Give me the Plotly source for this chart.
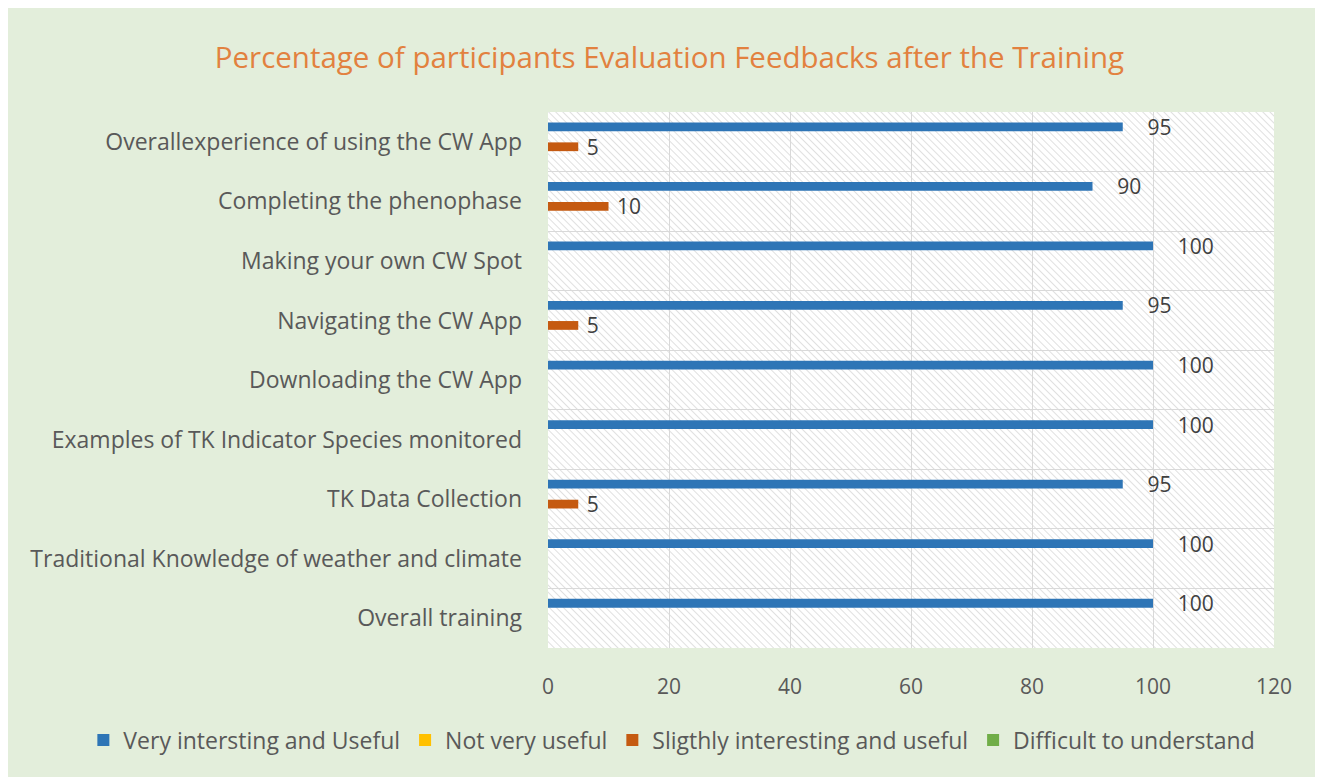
import base64
import plotly.graph_objects as go

categories = [
    "Overallexperience of using the CW App",
    "Completing the phenophase",
    "Making your own CW Spot",
    "Navigating the CW App",
    "Downloading the CW App",
    "Examples of TK Indicator Species monitored",
    "TK Data Collection",
    "Traditional Knowledge of weather and climate",
    "Overall training",
]
very_interesting = [95, 90, 100, 95, 100, 100, 95, 100, 100]
not_very_useful = [0, 0, 0, 0, 0, 0, 0, 0, 0]
slightly_interesting = [5, 10, 0, 5, 0, 0, 5, 0, 0]
difficult = [0, 0, 0, 0, 0, 0, 0, 0, 0]

series_names = [
    "Very intersting and Useful",
    "Not very useful",
    "Sligthly interesting and useful",
    "Difficult to understand",
]
series_values = [very_interesting, not_very_useful, slightly_interesting, difficult]
series_colors = ["#2E75B6", "#FFC000", "#C55A11", "#70AD47"]
label_pads = ["\u00a0\u00a0\u00a0\u00a0", "\u00a0", "\u00a0", "\u00a0"]

TEXT = "#595959"
FONT = "Open Sans"

fig = go.Figure()
for name, vals, col, pad in zip(series_names, series_values, series_colors, label_pads):
    fig.add_trace(go.Bar(
        y=categories, x=vals, name=name, orientation="h",
        marker=dict(color=col, line=dict(width=0)),
        text=[(pad + str(v)) if v else "" for v in vals],
        textposition="outside", constraintext="none", cliponaxis=False,
        textfont=dict(family=FONT, size=21, color="#404040"),
    ))

# hatched plot-area background
svg = (
    '<svg xmlns="http://www.w3.org/2000/svg" width="726" height="536">'
    '<defs><pattern id="h" width="5" height="5" patternUnits="userSpaceOnUse" '
    'patternTransform="rotate(-45)">'
    '<line x1="0" y1="0" x2="0" y2="5" stroke="#D6D6D6" stroke-width="1.5"/>'
    '</pattern></defs>'
    '<rect width="726" height="536" fill="#FFFFFF"/>'
    '<rect width="726" height="536" fill="url(#h)"/></svg>'
)
src = "data:image/svg+xml;base64," + base64.b64encode(svg.encode()).decode()

fig.update_layout(
    width=1315, height=769,
    margin=dict(l=540, r=49, t=104, b=129),
    paper_bgcolor="#E3EEDB", plot_bgcolor="#FFFFFF",
    barmode="group", bargap=0.33, bargroupgap=0.12,
    title=dict(
        text="Percentage of participants Evaluation Feedbacks after the Training",
        x=0.503, xanchor="center", y=0.935, yanchor="middle",
        font=dict(family=FONT, size=29.5, color="#E2813F"),
    ),
    font=dict(family=FONT, color=TEXT),
    images=[dict(source=src, xref="x domain", yref="y domain", x=0, y=1,
                 sizex=1, sizey=1, sizing="stretch", layer="below")],
    legend=dict(
        orientation="h", x=-0.64, xanchor="left", y=-0.1716, yanchor="middle",
        font=dict(family=FONT, size=23, color=TEXT),
        bgcolor="rgba(0,0,0,0)", itemwidth=30, traceorder="normal",
    ),
    showlegend=True,
)
fig.update_xaxes(
    range=[0, 120], dtick=20, showgrid=True, gridcolor="#D9D9D9", gridwidth=1,
    zeroline=False, showline=False, ticks="",
    tickfont=dict(family=FONT, size=21, color=TEXT), ticklabelstandoff=24,
)
fig.update_yaxes(
    autorange="reversed", tickson="boundaries", showgrid=True,
    gridcolor="#D9D9D9", gridwidth=1, showline=False, ticks="",
    tickfont=dict(family=FONT, size=23, color=TEXT), ticklabelstandoff=25,
)

fig.write_html("out.html")
